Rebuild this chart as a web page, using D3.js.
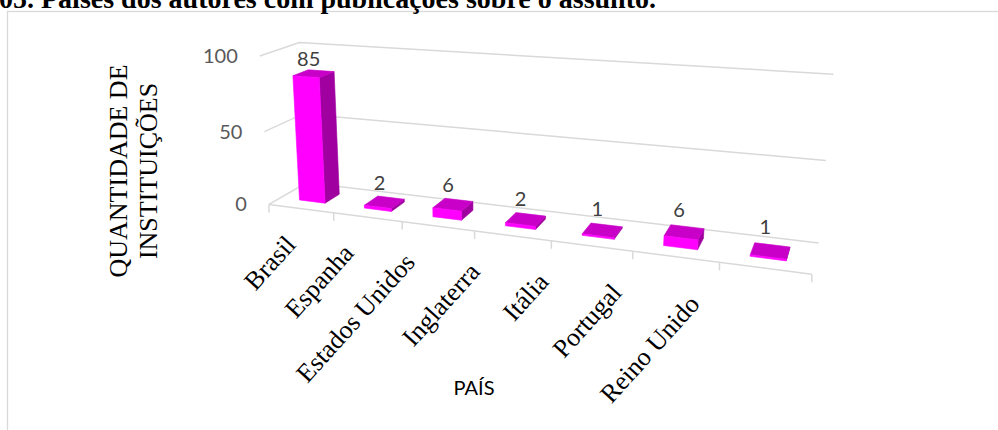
<!DOCTYPE html>
<html><head><meta charset="utf-8">
<script src="https://cdn.jsdelivr.net/npm/d3@7"></script>
<style>html,body{margin:0;padding:0;background:#fff;overflow:hidden}</style>
</head><body>
<svg id="chart" width="998" height="430"></svg>
<script>
// ---------------- data ----------------
const titleText = "05. Países dos autores com publicações sobre o assunto.";
const countries = ["Brasil", "Espanha", "Estados Unidos", "Inglaterra", "Itália", "Portugal", "Reino Unido"];
const values = [85, 2, 6, 2, 1, 6, 1];
const yTicks = [0, 50, 100];
const yTitleLines = ["QUANTIDADE DE", "INSTITUIÇÕES"];
const xTitle = "PAÍS";

// ---------------- layout: perspective camera calibration ----------------
// [catFraction, valueFraction, depthFraction, screenX, screenY] for corners of the 3D plot frame
const frameAnchors = [
  [0, 0, 0, 272, 205], [1, 0, 0, 812, 274], [0, 1, 0, 257, 55], [0, 0.5, 0, 263, 132],
  [0, 1, 1, 303, 44], [1, 1, 1, 833, 73], [0, 0, 1, 303, 181], [1, 0, 1, 819, 244], [1, 0.5, 1, 826, 161]
];
const frontTickX = [334, 403, 476, 551, 632, 719];
frontTickX.forEach((u, i) => frameAnchors.push([(i + 1) / 7, 0, 0, u, 205 + (u - 272) * 69 / 540]));

function fitCamera(pts) {
  const A = [], b = [];
  for (const [X, Y, Z, u, v] of pts) {
    A.push([X, Y, Z, 1, 0, 0, 0, 0, -u * X, -u * Y, -u * Z]); b.push(u);
    A.push([0, 0, 0, 0, X, Y, Z, 1, -v * X, -v * Y, -v * Z]); b.push(v);
  }
  const n = 11;
  const M = [];
  for (let i = 0; i < n; i++) {
    const row = new Array(n + 1).fill(0);
    for (let j = 0; j < n; j++) for (let k = 0; k < A.length; k++) row[j] += A[k][i] * A[k][j];
    for (let k = 0; k < A.length; k++) row[n] += A[k][i] * b[k];
    M.push(row);
  }
  for (let c = 0; c < n; c++) {
    let p = c;
    for (let r = c + 1; r < n; r++) if (Math.abs(M[r][c]) > Math.abs(M[p][c])) p = r;
    [M[c], M[p]] = [M[p], M[c]];
    for (let r = 0; r < n; r++) {
      if (r === c) continue;
      const f = M[r][c] / M[c][c];
      for (let j = c; j <= n; j++) M[r][j] -= f * M[c][j];
    }
  }
  return M.map((row, i) => row[n] / row[i]);
}
const m = fitCamera(frameAnchors);
function proj(X, Y, Z) {
  const w = m[8] * X + m[9] * Y + m[10] * Z + 1;
  return [(m[0] * X + m[1] * Y + m[2] * Z + m[3]) / w, (m[4] * X + m[5] * Y + m[6] * Z + m[7]) / w];
}

// ---------------- scales ----------------
const xWorld = d3.scaleBand().domain(countries).range([0, 1]).paddingInner(0).paddingOuter(0);
const yWorld = d3.scaleLinear().domain([0, 100]).range([0, 1]);
const barFrac = 0.4;             // gap width 150%
const zFront = 0.3, zBack = 0.7; // gap depth 150%

const svg = d3.select("#chart");
const gridColor = "#D9D9D9";
const serif = "'Liberation Serif', 'Times New Roman', serif";
const sans = "Lato, Carlito, Calibri, sans-serif";

// chart border
svg.append("rect").attr("x", 7.5).attr("y", 11.5).attr("width", 1100).attr("height", 500)
  .attr("fill", "#fff").attr("stroke", gridColor).attr("stroke-width", 1.3);

// title
svg.append("text").attr("x", -1).attr("y", 8).attr("font-family", serif).attr("font-weight", "bold")
  .attr("font-size", 28).attr("fill", "#000").text(titleText);

const line = d3.line();
const grid = svg.append("g").attr("fill", "none").attr("stroke", gridColor).attr("stroke-width", 1.5);
yTicks.forEach(t => {
  const y = yWorld(t);
  grid.append("path").attr("d", line([proj(0, y, 0), proj(0, y, 1), proj(1, y, 1)]));
});
// floor front edge
grid.append("path").attr("d", line([proj(0, 0, 0), proj(1, 0, 0)]));
// tick marks
const tickPos = countries.map(c => xWorld(c)).concat([1]);
tickPos.forEach(x => {
  const p = proj(x, 0, 0);
  grid.append("path").attr("d", line([p, [p[0], p[1] + 8]]));
});

// y tick labels
svg.append("g").selectAll("text").data(yTicks).join("text")
  .attr("x", d => proj(0, yWorld(d), 0)[0] - 22)
  .attr("y", d => proj(0, yWorld(d), 0)[1] + 2)
  .attr("text-anchor", "end").attr("dominant-baseline", "middle")
  .attr("font-family", sans).attr("font-size", 20).attr("fill", "#595959")
  .text(d => d);

// bars
const bars = svg.append("g");
countries.forEach((c, i) => {
  const bw = xWorld.bandwidth();
  const x0 = xWorld(c) + bw * (1 - barFrac) / 2, x1 = x0 + bw * barFrac;
  const v = yWorld(values[i]);
  const faces = [
    { pts: [[x1, 0, zFront], [x1, 0, zBack], [x1, v, zBack], [x1, v, zFront]], fill: "#A000A0" },
    { pts: [[x0, v, zFront], [x1, v, zFront], [x1, v, zBack], [x0, v, zBack]], fill: "#C800C8" },
    { pts: [[x0, 0, zFront], [x1, 0, zFront], [x1, v, zFront], [x0, v, zFront]], fill: "#FF00FF" }
  ];
  faces.forEach(f => {
    bars.append("path").attr("d", line(f.pts.map(p => proj(...p))) + "Z")
      .attr("fill", f.fill).attr("stroke", f.fill).attr("stroke-width", 0.6).attr("stroke-linejoin", "round");
  });
});

// data labels
svg.append("g").selectAll("text").data(countries).join("text")
  .attr("x", (c, i) => proj(xWorld(c) + xWorld.bandwidth() / 2, yWorld(values[i]), 0.5)[0] - 5)
  .attr("y", (c, i) => proj(xWorld(c) + xWorld.bandwidth() / 2, yWorld(values[i]), 1.1)[1] + 1)
  .attr("text-anchor", "middle").attr("font-family", sans).attr("font-size", 20).attr("fill", "#404040")
  .text((c, i) => values[i]);

// category labels
svg.append("g").selectAll("text").data(countries).join("text")
  .attr("transform", c => {
    const p = proj(xWorld(c) + xWorld.bandwidth() / 2, 0, 0);
    return `translate(${0.87 * p[0] + 35.4},${p[1] + 37}) rotate(-48)`;
  })
  .attr("text-anchor", "end").attr("font-family", serif).attr("font-size", 26).attr("fill", "#000")
  .text(c => c);

// axis titles
const yt = svg.append("text").attr("transform", "translate(127,171) rotate(-90)")
  .attr("text-anchor", "middle").attr("font-family", serif).attr("font-size", 26).attr("fill", "#000");
yTitleLines.forEach((t, i) => yt.append("tspan").attr("x", 0).attr("y", i * 30).text(t));

svg.append("text").attr("x", 474).attr("y", 395).attr("text-anchor", "middle")
  .attr("font-family", sans).attr("font-size", 20).attr("fill", "#000").text(xTitle);
</script>
</body></html>
